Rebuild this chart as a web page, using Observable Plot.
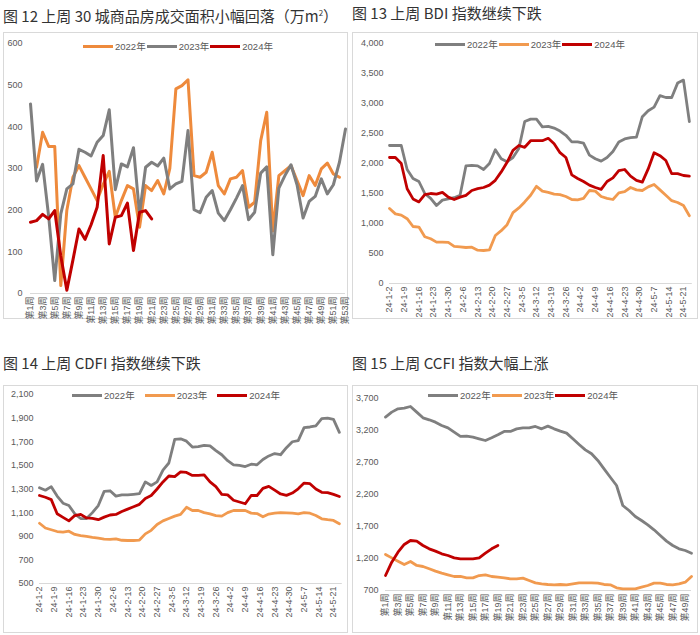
<!DOCTYPE html>
<html><head><meta charset="utf-8">
<script src="https://cdn.jsdelivr.net/npm/d3@7"></script>
<script src="https://cdn.jsdelivr.net/npm/@observablehq/plot@0.6"></script>
<style>
body{margin:0;background:#fff;font-family:"Noto Sans CJK SC","Noto Sans",sans-serif;}
#root{position:relative;width:700px;height:635px;overflow:hidden;background:#fff;}
.title{position:absolute;font-size:15px;color:#333;white-space:nowrap;line-height:18px;}
.box{position:absolute;border:1px solid #d9d9d9;box-sizing:border-box;background:#fff;}
.box svg{position:absolute;left:0;top:0;}
.legend{position:absolute;display:flex;align-items:center;height:14px;font-size:9.5px;color:#595959;white-space:nowrap;font-family:"Liberation Sans","Noto Sans CJK SC",sans-serif;}
.legend .sw{display:inline-block;height:3px;width:30px;margin-right:2px;}
</style></head>
<body><div id="root"></div>
<script>
// ---------- Figure 12: 30-city housing sales (weekly, 万m²) ----------
const houseWeekTicks = [1,3,5,7,9,11,13,15,17,19,21,23,25,27,29,31,33,35,37,39,41,43,45,47,49,51,53];
const houseWeekLabels = ["第1周","第3周","第5周","第7周","第9周","第11周","第13周","第15周","第17周","第19周","第21周","第23周","第25周","第27周","第29周","第31周","第33周","第35周","第37周","第39周","第41周","第43周","第45周","第47周","第49周","第51周","第53周"];
const house2022 = [null,303,387,353,353,19,200,279,307,279,251,223,262,293,183,223,259,251,159,259,247,271,239,300,491,499,513,283,279,291,339,259,239,275,279,295,207,219,367,435,150,283,295,307,271,235,283,259,299,313,287,279,null];
const house2023 = [455,270,310,185,31,191,251,263,346,339,330,363,379,441,249,311,304,350,191,303,315,306,325,251,263,269,391,201,194,231,247,193,175,201,229,259,177,195,289,304,93,253,283,309,261,181,221,233,275,239,261,315,395];
const house2024 = [171,175,190,179,199,90,8,80,155,130,165,207,331,119,183,187,217,103,195,199,179];

// ---------- Figure 13 / 14: BDI, CDFI (business days, every 2nd day) ----------
const dayTickLabels = ["24-1-2","24-1-9","24-1-16","24-1-23","24-1-30","24-2-6","24-2-13","24-2-20","24-2-27","24-3-5","24-3-12","24-3-19","24-3-26","24-4-2","24-4-9","24-4-16","24-4-23","24-4-30","24-5-7","24-5-14","24-5-21"];
const dayTickPos = [0,5,10,15,20,25,30,35,40,45,50,55,60,65,70,75,80,85,90,95,100];
const bdi2022 = [2300,2300,2300,1900,1750,1700,1500,1420,1300,1390,1410,1430,1470,1960,1970,1960,1900,2000,2230,2080,2030,2100,2250,2700,2740,2740,2610,2620,2590,2540,2470,2360,2360,2340,2140,2080,2040,2100,2200,2360,2410,2430,2440,2780,2880,2940,3130,3100,3100,3340,3390,2700];
const bdi2023 = [1250,1160,1140,1080,950,940,780,745,690,690,685,620,610,600,605,555,550,560,800,880,980,1180,1260,1360,1470,1620,1540,1520,1490,1480,1450,1400,1395,1420,1550,1540,1450,1420,1400,1510,1530,1600,1560,1550,1610,1650,1560,1470,1380,1350,1300,1130];
const bdi2024 = [2100,2100,2000,1580,1410,1360,1480,1500,1490,1520,1440,1400,1440,1470,1550,1580,1600,1640,1720,1860,2020,2220,2300,2270,2380,2380,2380,2420,2330,2180,2100,1810,1750,1700,1640,1600,1570,1700,1760,1880,1900,1790,1720,1690,1910,2180,2130,2050,1830,1830,1800,1790];
const cdfi2022 = [1310,1290,1320,1240,1180,1160,1090,1050,1050,1100,1160,1280,1285,1240,1250,1250,1255,1260,1360,1330,1360,1460,1520,1720,1725,1705,1655,1658,1670,1665,1625,1590,1540,1505,1500,1490,1510,1505,1550,1580,1600,1590,1650,1700,1710,1820,1825,1835,1895,1900,1890,1780];
const cdfi2023 = [1010,970,955,940,935,943,915,905,898,890,884,876,874,878,866,864,864,868,920,950,1000,1030,1050,1070,1085,1145,1118,1118,1100,1090,1075,1070,1100,1118,1118,1118,1096,1092,1065,1088,1095,1100,1098,1095,1090,1100,1095,1076,1048,1040,1034,1006];
const cdfi2024 = [1245,1230,1210,1090,1060,1030,1075,1085,1055,1052,1040,1062,1080,1085,1110,1130,1150,1170,1220,1245,1300,1360,1410,1405,1445,1440,1415,1415,1420,1360,1320,1255,1250,1205,1190,1175,1245,1245,1305,1322,1290,1258,1246,1266,1302,1350,1345,1300,1272,1270,1255,1237];

// ---------- Figure 15: CCFI (weekly) ----------
const ccfiWeekTicks = [1,3,5,7,9,11,13,15,17,19,21,23,25,27,29,31,33,35,37,39,41,43,45,47,49];
const ccfiWeekLabels = ["第1周","第3周","第5周","第7周","第9周","第11周","第13周","第15周","第17周","第19周","第21周","第23周","第25周","第27周","第29周","第31周","第33周","第35周","第37周","第39周","第41周","第43周","第45周","第47周","第49周"];
const ccfi2022 = [3409,3487,3539,3549,3575,3487,3398,3367,3330,3278,3242,3174,3107,3112,3096,3070,3044,3086,3133,3185,3185,3226,3242,3242,3263,3226,3268,3226,3190,3159,3070,2982,2898,2836,2732,2601,2470,2341,2028,1950,1856,1794,1726,1648,1559,1471,1403,1351,1325,1283];
const ccfi2023 = [1263,1210,1158,1106,1153,1091,1075,1039,1002,971,945,919,919,898,898,934,945,919,908,898,882,882,893,856,820,804,794,789,794,789,804,820,820,820,815,794,789,742,726,726,726,752,778,815,815,794,789,804,830,919];
const ccfi2024 = [934,1143,1299,1419,1481,1471,1403,1351,1315,1273,1247,1210,1195,1195,1195,1210,1283,1351,1403];

const seriesNames = ["2022年","2023年","2024年"];
const GRAY = "#7f7f7f", RED = "#c00000", ORANGE1 = "#ee8a3c", ORANGE2 = "#f19a4f";

const root = document.getElementById("root");

function weekX(vals){ return vals.map((v,k)=>k+1); }
function dayX(vals){ return vals.map((v,k)=>k*2); }

function drawPanel(cfg){
  const t = document.createElement("div");
  t.className = "title"; t.style.left = cfg.titleX + "px"; t.style.top = cfg.titleY + "px";
  t.innerHTML = cfg.title; root.appendChild(t);

  const b = cfg.box;
  const box = document.createElement("div");
  box.className = "box";
  Object.assign(box.style, {left:b.x+"px", top:b.y+"px", width:b.w+"px", height:b.h+"px"});
  root.appendChild(box);
  const W = b.w - 2, H = b.h - 2, ox = b.x + 1, oy = b.y + 1;
  const a = cfg.area;

  const marks = [Plot.ruleY([cfg.yDomain[0]], {stroke:"#d9d9d9", strokeWidth:1})];
  cfg.series.forEach(s => {
    const rows = s.values.map((v,k) => ({x: s.x[k], y: v}));
    marks.push(Plot.line(rows, {x:"x", y:"y", stroke:s.color, strokeWidth:s.width || 2.8, strokeLinejoin:"round"}));
  });
  const labelMap = new Map(cfg.xTicks.map((d,i) => [d, cfg.xLabels[i]]));
  marks.push(Plot.axisY({ticks:cfg.yTicks, tickSize:0, tickPadding:cfg.yPad, tickFormat:d3.format(","), label:null}));
  marks.push(Plot.axisX({ticks:cfg.xTicks, tickSize:0, tickPadding:3, tickRotate:-90, tickFormat:d => labelMap.get(d), label:null}));

  const svg = Plot.plot({
    width: W, height: H,
    marginLeft: a.l - ox, marginRight: ox + W - a.r,
    marginTop: a.t - oy, marginBottom: oy + H - a.b,
    x: {domain: cfg.xDomain},
    y: {domain: cfg.yDomain},
    style: {fontSize:"9px", color:"#595959", background:"transparent", fontFamily:"'Liberation Sans','Noto Sans CJK SC',sans-serif", overflow:"visible"},
    marks
  });
  box.appendChild(svg);

  const lg = document.createElement("div");
  lg.className = "legend";
  lg.style.left = cfg.legend.x + "px"; lg.style.top = (cfg.legend.y - 7) + "px";
  cfg.series.forEach(s => {
    const sw = document.createElement("span"); sw.className = "sw"; sw.style.background = s.color;
    const tx = document.createElement("span"); tx.textContent = s.name; tx.style.marginRight = cfg.legend.gap + "px";
    lg.appendChild(sw); lg.appendChild(tx);
  });
  root.appendChild(lg);
}

// Figure 12
drawPanel({
  title: "图 12 上周 30 城商品房成交面积小幅回落（万m<sup style='font-size:8px'>2</sup>）",
  titleX: 3, titleY: 4,
  box: {x:3, y:32, w:345, h:287},
  area: {l:30, r:345, t:43, b:293},
  yDomain: [0,600], yTicks: [0,100,200,300,400,500,600], yPad: 8,
  xDomain: [1,53], xTicks: houseWeekTicks, xLabels: houseWeekLabels,
  legend: {x:83, y:46, gap:1},
  series: [
    {name:seriesNames[0], color:ORANGE1, x:weekX(house2022), values:house2022, width:3},
    {name:seriesNames[1], color:GRAY, x:weekX(house2023), values:house2023, width:3},
    {name:seriesNames[2], color:RED, x:weekX(house2024), values:house2024, width:3}
  ]
});

// Figure 13
drawPanel({
  title: "图 13 上周 BDI 指数继续下跌",
  titleX: 352, titleY: 4,
  box: {x:352, y:32, w:346, h:287},
  area: {l:389, r:691.8, t:43, b:283},
  yDomain: [0,4000], yTicks: [0,500,1000,1500,2000,2500,3000,3500,4000], yPad: 6,
  xDomain: [0,103], xTicks: dayTickPos, xLabels: dayTickLabels,
  legend: {x:435, y:44, gap:1},
  series: [
    {name:seriesNames[0], color:GRAY, x:dayX(bdi2022), values:bdi2022},
    {name:seriesNames[1], color:ORANGE2, x:dayX(bdi2023), values:bdi2023},
    {name:seriesNames[2], color:RED, x:dayX(bdi2024), values:bdi2024}
  ]
});

// Figure 14
drawPanel({
  title: "图 14 上周 CDFI 指数继续下跌",
  titleX: 3, titleY: 354,
  box: {x:3, y:385, w:345, h:248},
  area: {l:39, r:341.8, t:394, b:583},
  yDomain: [500,2100], yTicks: [500,700,900,1100,1300,1500,1700,1900,2100], yPad: 6,
  xDomain: [0,103], xTicks: dayTickPos, xLabels: dayTickLabels,
  legend: {x:72, y:395, gap:10},
  series: [
    {name:seriesNames[0], color:GRAY, x:dayX(cdfi2022), values:cdfi2022},
    {name:seriesNames[1], color:ORANGE2, x:dayX(cdfi2023), values:cdfi2023},
    {name:seriesNames[2], color:RED, x:dayX(cdfi2024), values:cdfi2024}
  ]
});

// Figure 15
drawPanel({
  title: "图 15 上周 CCFI 指数大幅上涨",
  titleX: 352, titleY: 354,
  box: {x:352, y:385, w:346, h:248},
  area: {l:385, r:691, t:398, b:590},
  yDomain: [700,3700], yTicks: [700,1200,1700,2200,2700,3200,3700], yPad: 7,
  xDomain: [1,50], xTicks: ccfiWeekTicks, xLabels: ccfiWeekLabels,
  legend: {x:428, y:395, gap:1},
  series: [
    {name:seriesNames[0], color:GRAY, x:weekX(ccfi2022), values:ccfi2022},
    {name:seriesNames[1], color:ORANGE2, x:weekX(ccfi2023), values:ccfi2023},
    {name:seriesNames[2], color:RED, x:weekX(ccfi2024), values:ccfi2024}
  ]
});
</script>
</body></html>
